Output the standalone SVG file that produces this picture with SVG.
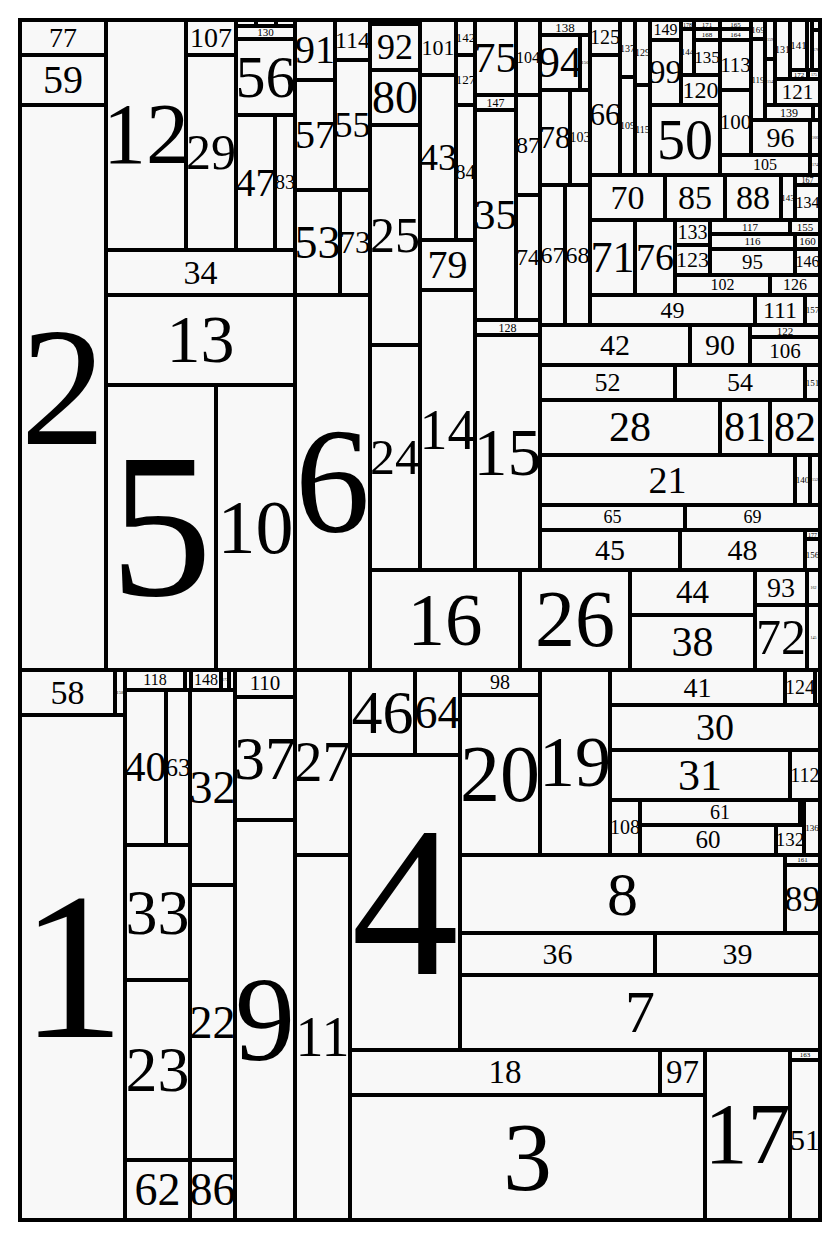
<svg xmlns="http://www.w3.org/2000/svg" width="840" height="1240" viewBox="0 0 840 1240">
<style>
rect{fill:#f8f8f8;stroke:#000;stroke-width:4}
text{font-family:"Liberation Serif","Times New Roman",serif;text-anchor:middle;fill:#000}
.frame{fill:none;stroke:#000;stroke-width:4}
</style>
<rect width="840" height="1240" style="fill:#fff;stroke:none"/>
<g id="nodes">
<g id="n77"><rect x="20" y="20" width="86" height="35"/><text x="63" y="46.7" font-size="28">77</text></g>
<g id="n59"><rect x="20" y="55" width="86" height="50"/><text x="63" y="93.2" font-size="40">59</text></g>
<g id="n2"><rect x="20" y="105" width="86" height="565"/><text x="63" y="443.6" font-size="170">2</text></g>
<g id="n12"><rect x="106" y="20" width="80" height="230"/><text x="146" y="163.4" font-size="86">12</text></g>
<g id="n107"><rect x="186" y="20" width="50" height="35"/><text x="211" y="46.7" font-size="28">107</text></g>
<g id="n29"><rect x="186" y="55" width="50" height="195"/><text x="211" y="169" font-size="50">29</text></g>
<g id="s1"><rect x="236" y="20" width="20" height="6"/><rect x="256" y="20" width="20" height="6"/><rect x="276" y="20" width="19" height="6"/></g>
<g id="n130"><rect x="236" y="26" width="59" height="13"/><text x="265.5" y="36.1" font-size="11">130</text></g>
<g id="n56"><rect x="236" y="39" width="59" height="76"/><text x="265.5" y="96.8" font-size="60">56</text></g>
<g id="n47"><rect x="236" y="115" width="39" height="135"/><text x="255.5" y="195.7" font-size="40">47</text></g>
<g id="n83"><rect x="275" y="115" width="20" height="135"/><text x="285" y="189.1" font-size="20">83</text></g>
<g id="n34"><rect x="106" y="250" width="189" height="45"/><text x="200.5" y="283.7" font-size="34">34</text></g>
<g id="n13"><rect x="106" y="295" width="189" height="90"/><text x="200.5" y="362.4" font-size="68">13</text></g>
<g id="n5"><rect x="106" y="385" width="110" height="285"/><text x="161" y="595.2" font-size="205">5</text></g>
<g id="n10"><rect x="216" y="385" width="79" height="285"/><text x="255.5" y="552.6" font-size="76">10</text></g>
<g id="n91"><rect x="295" y="20" width="40" height="60"/><text x="315" y="63.2" font-size="40">91</text></g>
<g id="n114"><rect x="335" y="20" width="35" height="40"/><text x="352.5" y="47.9" font-size="24">114</text></g>
<g id="n57"><rect x="295" y="80" width="40" height="110"/><text x="315" y="148.2" font-size="40">57</text></g>
<g id="n55"><rect x="335" y="60" width="35" height="130"/><text x="352.5" y="136.9" font-size="36">55</text></g>
<g id="n53"><rect x="295" y="190" width="45" height="105"/><text x="317.5" y="257.7" font-size="46">53</text></g>
<g id="n73"><rect x="340" y="190" width="30" height="105"/><text x="355" y="252.7" font-size="31">73</text></g>
<g id="n6"><rect x="295" y="295" width="75" height="375"/><text x="332.5" y="532" font-size="150">6</text></g>
<g id="s2"><rect x="370" y="20" width="25" height="4"/><rect x="395" y="20" width="25" height="4"/></g>
<g id="n92"><rect x="370" y="24" width="50" height="46"/><text x="395" y="58.9" font-size="36">92</text></g>
<g id="n80"><rect x="370" y="70" width="50" height="55"/><text x="395" y="112.7" font-size="46">80</text></g>
<g id="n25"><rect x="370" y="125" width="50" height="220"/><text x="395" y="251.5" font-size="50">25</text></g>
<g id="n24"><rect x="370" y="345" width="50" height="225"/><text x="395" y="474" font-size="50">24</text></g>
<g id="n101"><rect x="420" y="20" width="36" height="55"/><text x="438" y="54.8" font-size="22">101</text></g>
<g id="n142"><rect x="456" y="20" width="19" height="35"/><text x="465.5" y="41.8" font-size="13">142</text></g>
<g id="n127"><rect x="456" y="55" width="19" height="50"/><text x="465.5" y="84.3" font-size="13">127</text></g>
<g id="n43"><rect x="420" y="75" width="36" height="165"/><text x="438" y="170" font-size="38">43</text></g>
<g id="n84"><rect x="456" y="105" width="19" height="135"/><text x="465.5" y="179.1" font-size="20">84</text></g>
<g id="n79"><rect x="420" y="240" width="55" height="50"/><text x="447.5" y="278.2" font-size="40">79</text></g>
<g id="n14"><rect x="420" y="290" width="55" height="280"/><text x="447.5" y="448.5" font-size="56">14</text></g>
<g id="n75"><rect x="475" y="20" width="41" height="75"/><text x="495.5" y="71.7" font-size="43">75</text></g>
<g id="n104"><rect x="516" y="20" width="24" height="75"/><text x="528" y="62.8" font-size="16">104</text></g>
<g id="n147"><rect x="475" y="95" width="41" height="15"/><text x="495.5" y="106.5" font-size="12">147</text></g>
<g id="n35"><rect x="475" y="110" width="41" height="210"/><text x="495.5" y="229.2" font-size="43">35</text></g>
<g id="n87"><rect x="516" y="95" width="24" height="100"/><text x="528" y="152.9" font-size="24">87</text></g>
<g id="n74"><rect x="516" y="195" width="24" height="125"/><text x="528" y="265" font-size="23">74</text></g>
<g id="n128"><rect x="475" y="320" width="65" height="15"/><text x="507.5" y="331.5" font-size="12">128</text></g>
<g id="n15"><rect x="475" y="335" width="65" height="235"/><text x="507.5" y="474.9" font-size="68">15</text></g>
<g id="n16"><rect x="370" y="570" width="150" height="100"/><text x="445" y="644.8" font-size="75">16</text></g>
<g id="n26"><rect x="520" y="570" width="110" height="100"/><text x="575" y="646.4" font-size="80">26</text></g>
<g id="n138"><rect x="540" y="20" width="50" height="15"/><text x="565" y="31.8" font-size="13">138</text></g>
<g id="n94"><rect x="540" y="35" width="40" height="55"/><text x="560" y="77" font-size="44">94</text></g>
<g id="n150"><rect x="580" y="35" width="10" height="55"/><text x="585" y="64.2" font-size="5">150</text></g>
<g id="n78"><rect x="540" y="90" width="30" height="95"/><text x="555" y="147.7" font-size="31">78</text></g>
<g id="n103"><rect x="570" y="90" width="20" height="95"/><text x="580" y="142.1" font-size="14">103</text></g>
<g id="n67"><rect x="540" y="185" width="25" height="140"/><text x="552.5" y="263" font-size="24">67</text></g>
<g id="n68"><rect x="565" y="185" width="25" height="140"/><text x="577.5" y="263" font-size="24">68</text></g>
<g id="n125"><rect x="590" y="20" width="30" height="35"/><text x="605" y="44.1" font-size="20">125</text></g>
<g id="n66"><rect x="590" y="55" width="30" height="120"/><text x="605" y="125.2" font-size="31">66</text></g>
<g id="n137"><rect x="620" y="20" width="15" height="57"/><text x="627.5" y="51.8" font-size="10">137</text></g>
<g id="n109"><rect x="620" y="77" width="15" height="98"/><text x="627.5" y="129.3" font-size="10">109</text></g>
<g id="n129"><rect x="635" y="20" width="15" height="65"/><text x="642.5" y="55.8" font-size="10">129</text></g>
<g id="n115"><rect x="635" y="85" width="15" height="90"/><text x="642.5" y="133.3" font-size="10">115</text></g>
<g id="n149"><rect x="650" y="20" width="31" height="20"/><text x="665.5" y="35.3" font-size="16">149</text></g>
<g id="n99"><rect x="650" y="40" width="31" height="65"/><text x="665.5" y="83.4" font-size="33">99</text></g>
<g id="n178"><rect x="681" y="20" width="13" height="9"/><text x="687.5" y="26.5" font-size="6">178</text></g>
<g id="n144"><rect x="681" y="29" width="13" height="46"/><text x="687.5" y="55" font-size="9">144</text></g>
<g id="n171"><rect x="694" y="20" width="26" height="9"/><text x="707" y="26.8" font-size="7">171</text></g>
<g id="n168"><rect x="694" y="29" width="26" height="11"/><text x="707" y="36.8" font-size="7">168</text></g>
<g id="n135"><rect x="694" y="40" width="26" height="35"/><text x="707" y="63.1" font-size="17">135</text></g>
<g id="n120"><rect x="681" y="75" width="39" height="30"/><text x="700.5" y="97.9" font-size="24">120</text></g>
<g id="n50"><rect x="650" y="105" width="70" height="70"/><text x="685" y="158.5" font-size="56">50</text></g>
<g id="n165"><rect x="720" y="20" width="31" height="9"/><text x="735.5" y="26.8" font-size="7">165</text></g>
<g id="n164"><rect x="720" y="29" width="31" height="11"/><text x="735.5" y="36.8" font-size="7">164</text></g>
<g id="n113"><rect x="720" y="40" width="31" height="50"/><text x="735.5" y="71.9" font-size="21">113</text></g>
<g id="n100"><rect x="720" y="90" width="31" height="65"/><text x="735.5" y="129.4" font-size="21">100</text></g>
<g id="n105"><rect x="720" y="155" width="90" height="20"/><text x="765" y="170.3" font-size="16">105</text></g>
<g id="n174"><rect x="810" y="155" width="10" height="20"/><text x="815" y="166.3" font-size="4">174</text></g>
<g id="n169"><rect x="751" y="20" width="14" height="19"/><text x="758" y="32.5" font-size="9">169</text></g>
<g id="n119"><rect x="751" y="39" width="14" height="81"/><text x="758" y="82.5" font-size="9">119</text></g>
<g id="n159"><rect x="765" y="20" width="10" height="39"/><text x="770" y="40.8" font-size="4">159</text></g>
<g id="n154"><rect x="765" y="59" width="10" height="46"/><text x="770" y="83.3" font-size="4">154</text></g>
<g id="n131"><rect x="775" y="20" width="15" height="59"/><text x="782.5" y="52.8" font-size="10">131</text></g>
<g id="n141"><rect x="790" y="20" width="17" height="50"/><text x="798.5" y="48.6" font-size="11">141</text></g>
<g id="n180"><rect x="807" y="20" width="5" height="50"/></g>
<g id="n181"><rect x="812" y="20" width="8" height="10"/></g>
<g id="n176"><rect x="812" y="30" width="8" height="40"/><text x="816" y="51.3" font-size="4">176</text></g>
<g id="n172"><rect x="790" y="70" width="18" height="9"/><text x="799" y="76.8" font-size="7">172</text></g>
<g id="n175"><rect x="808" y="70" width="12" height="9"/><text x="814" y="75.8" font-size="4">175</text></g>
<g id="n121"><rect x="775" y="79" width="45" height="26"/><text x="797.5" y="98.9" font-size="21">121</text></g>
<g id="n139"><rect x="765" y="105" width="48" height="15"/><text x="789" y="116.5" font-size="12">139</text></g>
<g id="n182"><rect x="813" y="105" width="7" height="15"/></g>
<g id="n96"><rect x="751" y="120" width="59" height="35"/><text x="780.5" y="146.7" font-size="28">96</text></g>
<g id="n166"><rect x="810" y="120" width="10" height="35"/><text x="815" y="138.8" font-size="4">166</text></g>
<g id="n70"><rect x="590" y="175" width="75" height="45"/><text x="627.5" y="208.7" font-size="34">70</text></g>
<g id="n85"><rect x="665" y="175" width="60" height="45"/><text x="695" y="208.7" font-size="34">85</text></g>
<g id="n88"><rect x="725" y="175" width="56" height="45"/><text x="753" y="208.7" font-size="34">88</text></g>
<g id="n143"><rect x="781" y="175" width="14" height="45"/><text x="788" y="200.5" font-size="9">143</text></g>
<g id="n167"><rect x="795" y="175" width="25" height="10"/><text x="807.5" y="182.6" font-size="8">167</text></g>
<g id="n134"><rect x="795" y="185" width="25" height="35"/><text x="807.5" y="207.8" font-size="16">134</text></g>
<g id="n71"><rect x="590" y="220" width="45" height="75"/><text x="612.5" y="272" font-size="44">71</text></g>
<g id="n76"><rect x="635" y="220" width="40" height="75"/><text x="655" y="270" font-size="38">76</text></g>
<g id="n133"><rect x="675" y="220" width="35" height="25"/><text x="692.5" y="239.1" font-size="20">133</text></g>
<g id="n123"><rect x="675" y="245" width="35" height="30"/><text x="692.5" y="267.3" font-size="22">123</text></g>
<g id="n117"><rect x="710" y="220" width="80" height="14"/><text x="750" y="230.6" font-size="11">117</text></g>
<g id="n155"><rect x="790" y="220" width="30" height="14"/><text x="805" y="230.6" font-size="11">155</text></g>
<g id="n116"><rect x="710" y="234" width="85" height="15"/><text x="752.5" y="245.1" font-size="11">116</text></g>
<g id="n160"><rect x="795" y="234" width="25" height="15"/><text x="807.5" y="245.1" font-size="11">160</text></g>
<g id="n95"><rect x="710" y="249" width="85" height="26"/><text x="752.5" y="268.9" font-size="21">95</text></g>
<g id="n146"><rect x="795" y="249" width="25" height="26"/><text x="807.5" y="267.3" font-size="16">146</text></g>
<g id="n102"><rect x="675" y="275" width="95" height="20"/><text x="722.5" y="290.3" font-size="16">102</text></g>
<g id="n126"><rect x="770" y="275" width="50" height="20"/><text x="795" y="290.3" font-size="16">126</text></g>
<g id="n49"><rect x="590" y="295" width="165" height="30"/><text x="672.5" y="317.9" font-size="24">49</text></g>
<g id="n111"><rect x="755" y="295" width="50" height="30"/><text x="780" y="317.9" font-size="24">111</text></g>
<g id="n157"><rect x="805" y="295" width="15" height="30"/><text x="812.5" y="313" font-size="9">157</text></g>
<g id="n42"><rect x="540" y="325" width="150" height="40"/><text x="615" y="354.9" font-size="30">42</text></g>
<g id="n90"><rect x="690" y="325" width="60" height="40"/><text x="720" y="354.9" font-size="30">90</text></g>
<g id="n122"><rect x="750" y="325" width="70" height="12"/><text x="785" y="334.6" font-size="11">122</text></g>
<g id="n106"><rect x="750" y="337" width="70" height="28"/><text x="785" y="357.9" font-size="21">106</text></g>
<g id="n52"><rect x="540" y="365" width="135" height="35"/><text x="607.5" y="391.1" font-size="26">52</text></g>
<g id="n54"><rect x="675" y="365" width="130" height="35"/><text x="740" y="391.1" font-size="26">54</text></g>
<g id="n151"><rect x="805" y="365" width="15" height="35"/><text x="812.5" y="385.5" font-size="9">151</text></g>
<g id="n28"><rect x="540" y="400" width="180" height="55"/><text x="630" y="441.4" font-size="42">28</text></g>
<g id="n81"><rect x="720" y="400" width="50" height="55"/><text x="745" y="441.4" font-size="42">81</text></g>
<g id="n82"><rect x="770" y="400" width="50" height="55"/><text x="795" y="441.4" font-size="42">82</text></g>
<g id="n21"><rect x="540" y="455" width="255" height="50"/><text x="667.5" y="492.5" font-size="38">21</text></g>
<g id="n140"><rect x="795" y="455" width="15" height="50"/><text x="802.5" y="483" font-size="9">140</text></g>
<g id="n152"><rect x="810" y="455" width="10" height="50"/><text x="815" y="481.3" font-size="4">152</text></g>
<g id="n65"><rect x="540" y="505" width="145" height="25"/><text x="612.5" y="523.4" font-size="18">65</text></g>
<g id="n69"><rect x="685" y="505" width="135" height="25"/><text x="752.5" y="523.4" font-size="18">69</text></g>
<g id="n45"><rect x="540" y="530" width="140" height="40"/><text x="610" y="559.9" font-size="30">45</text></g>
<g id="n48"><rect x="680" y="530" width="125" height="40"/><text x="742.5" y="559.9" font-size="30">48</text></g>
<g id="n177"><rect x="805" y="530" width="15" height="9"/><text x="812.5" y="536.5" font-size="6">177</text></g>
<g id="n156"><rect x="805" y="539" width="15" height="31"/><text x="812.5" y="557.5" font-size="9">156</text></g>
<g id="n44"><rect x="630" y="570" width="125" height="45"/><text x="692.5" y="603.4" font-size="33">44</text></g>
<g id="n38"><rect x="630" y="615" width="125" height="55"/><text x="692.5" y="656.4" font-size="42">38</text></g>
<g id="n93"><rect x="755" y="570" width="52" height="35"/><text x="781" y="596.7" font-size="28">93</text></g>
<g id="n72"><rect x="755" y="605" width="52" height="65"/><text x="781" y="654" font-size="50">72</text></g>
<g id="n162"><rect x="807" y="570" width="13" height="35"/><text x="813.5" y="588.8" font-size="4">162</text></g>
<g id="n145"><rect x="807" y="605" width="13" height="65"/><text x="813.5" y="638.8" font-size="4">145</text></g>
<g id="n58"><rect x="20" y="670" width="95" height="45"/><text x="67.5" y="703.7" font-size="34">58</text></g>
<g id="n158"><rect x="115" y="670" width="10" height="45"/><text x="120" y="694.2" font-size="5">158</text></g>
<g id="n1"><rect x="20" y="715" width="105" height="505"/><text x="72.5" y="1036.8" font-size="210">1</text></g>
<g id="n118"><rect x="125" y="670" width="60" height="20"/><text x="155" y="685.3" font-size="16">118</text></g>
<g id="n183"><rect x="185" y="670" width="6" height="20"/></g>
<g id="n148"><rect x="191" y="670" width="30" height="20"/><text x="206" y="685.3" font-size="16">148</text></g>
<g id="n173"><rect x="221" y="670" width="8" height="20"/><text x="225" y="681.3" font-size="4">173</text></g>
<g id="n184"><rect x="229" y="670" width="6" height="20"/></g>
<g id="n110"><rect x="235" y="670" width="60" height="27"/><text x="265" y="690.4" font-size="21">110</text></g>
<g id="n40"><rect x="125" y="690" width="41" height="155"/><text x="145.5" y="781.4" font-size="42">40</text></g>
<g id="n63"><rect x="166" y="690" width="24" height="155"/><text x="178" y="775.8" font-size="25">63</text></g>
<g id="n33"><rect x="125" y="845" width="65" height="135"/><text x="157.5" y="933.6" font-size="64">33</text></g>
<g id="n23"><rect x="125" y="980" width="65" height="180"/><text x="157.5" y="1091.1" font-size="64">23</text></g>
<g id="n62"><rect x="125" y="1160" width="65" height="60"/><text x="157.5" y="1205.2" font-size="46">62</text></g>
<g id="n32"><rect x="190" y="690" width="45" height="195"/><text x="212.5" y="802.7" font-size="46">32</text></g>
<g id="n22"><rect x="190" y="885" width="45" height="275"/><text x="212.5" y="1037.7" font-size="46">22</text></g>
<g id="n86"><rect x="190" y="1160" width="45" height="60"/><text x="212.5" y="1205.2" font-size="46">86</text></g>
<g id="n37"><rect x="235" y="697" width="60" height="123"/><text x="265" y="779" font-size="62">37</text></g>
<g id="n9"><rect x="235" y="820" width="60" height="400"/><text x="265" y="1059.6" font-size="120">9</text></g>
<g id="n27"><rect x="295" y="670" width="55" height="185"/><text x="322.5" y="781" font-size="56">27</text></g>
<g id="n11"><rect x="295" y="855" width="55" height="365"/><text x="322.5" y="1056" font-size="56">11</text></g>
<g id="n46"><rect x="350" y="670" width="65" height="85"/><text x="382.5" y="733" font-size="62">46</text></g>
<g id="n64"><rect x="415" y="670" width="45" height="85"/><text x="437.5" y="727.7" font-size="46">64</text></g>
<g id="n4"><rect x="350" y="755" width="110" height="295"/><text x="405" y="973.5" font-size="215">4</text></g>
<g id="n98"><rect x="460" y="670" width="80" height="25"/><text x="500" y="689.1" font-size="20">98</text></g>
<g id="n20"><rect x="460" y="695" width="80" height="160"/><text x="500" y="801.4" font-size="80">20</text></g>
<g id="n19"><rect x="540" y="670" width="70" height="185"/><text x="575" y="786.3" font-size="72">19</text></g>
<g id="n41"><rect x="610" y="670" width="175" height="35"/><text x="697.5" y="696.7" font-size="28">41</text></g>
<g id="n124"><rect x="785" y="670" width="30" height="35"/><text x="800" y="694.1" font-size="20">124</text></g>
<g id="n185"><rect x="815" y="670" width="5" height="35"/></g>
<g id="n30"><rect x="610" y="705" width="210" height="45"/><text x="715" y="740" font-size="38">30</text></g>
<g id="n31"><rect x="610" y="750" width="180" height="50"/><text x="700" y="789.5" font-size="44">31</text></g>
<g id="n112"><rect x="790" y="750" width="30" height="50"/><text x="805" y="781.6" font-size="20">112</text></g>
<g id="n108"><rect x="610" y="800" width="30" height="55"/><text x="625" y="834.1" font-size="20">108</text></g>
<g id="n61"><rect x="640" y="800" width="160" height="25"/><text x="720" y="819.1" font-size="20">61</text></g>
<g id="n186"><rect x="800" y="800" width="4" height="25"/></g>
<g id="n60"><rect x="640" y="825" width="136" height="30"/><text x="708" y="848.3" font-size="25">60</text></g>
<g id="n132"><rect x="776" y="825" width="28" height="30"/><text x="790" y="846.3" font-size="19">132</text></g>
<g id="n136"><rect x="804" y="800" width="16" height="55"/><text x="812" y="830.5" font-size="9">136</text></g>
<g id="n8"><rect x="460" y="855" width="325" height="78"/><text x="622.5" y="914.5" font-size="62">8</text></g>
<g id="n161"><rect x="785" y="855" width="35" height="10"/><text x="802.5" y="862.3" font-size="7">161</text></g>
<g id="n89"><rect x="785" y="865" width="35" height="68"/><text x="802.5" y="910.9" font-size="36">89</text></g>
<g id="n36"><rect x="460" y="933" width="195" height="42"/><text x="557.5" y="963.9" font-size="30">36</text></g>
<g id="n39"><rect x="655" y="933" width="165" height="42"/><text x="737.5" y="963.9" font-size="30">39</text></g>
<g id="n7"><rect x="460" y="975" width="360" height="75"/><text x="640" y="1032.3" font-size="60">7</text></g>
<g id="n18"><rect x="350" y="1050" width="310" height="45"/><text x="505" y="1083.4" font-size="33">18</text></g>
<g id="n97"><rect x="660" y="1050" width="45" height="45"/><text x="682.5" y="1083.4" font-size="33">97</text></g>
<g id="n3"><rect x="350" y="1095" width="355" height="125"/><text x="527.5" y="1189.8" font-size="98">3</text></g>
<g id="n17"><rect x="705" y="1050" width="85" height="170"/><text x="747.5" y="1163.4" font-size="86">17</text></g>
<g id="n163"><rect x="790" y="1050" width="30" height="10"/><text x="805" y="1057.3" font-size="7">163</text></g>
<g id="n51"><rect x="790" y="1060" width="30" height="160"/><text x="805" y="1149.9" font-size="30">51</text></g>
</g>
<g id="connectors"/>
<rect class="frame" x="20" y="20" width="800" height="1200"/>
</svg>
